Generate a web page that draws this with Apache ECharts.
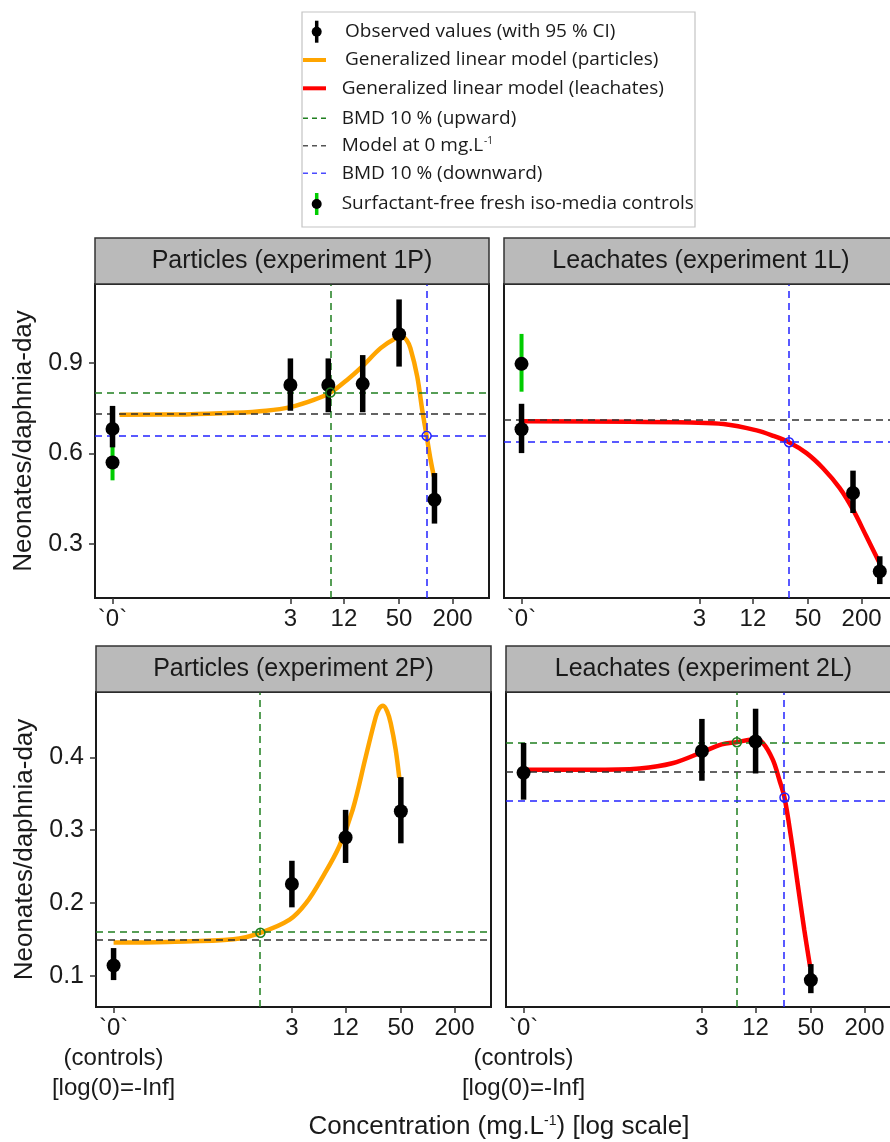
<!DOCTYPE html>
<html>
<head>
<meta charset="utf-8" />
<title>Neonates per daphnia-day</title>
<script src="https://cdn.jsdelivr.net/npm/echarts@6.0.0/dist/echarts.min.js"></script>
<style>
  html, body { margin: 0; padding: 0; background: #fff; }
  #main { width: 890px; height: 1142px; }
</style>
</head>
<body>
<div id="main"></div>
<script>
// the controls have no place on a log axis, they are drawn at the "`0`" tick
var zeroAt = 0.03;
var tickConc = [zeroAt, 3, 12, 50, 200];
var tickText = ['`0`', '3', '12', '50', '200'];
var yTicksTop = [0.3, 0.6, 0.9];
var yTicksBottom = [0.1, 0.2, 0.3, 0.4];

// experiment 1P (particles)
var conc1P = [0, 3, 8, 19.5, 50, 125];
var mean1P = [0.681, 0.826, 0.826, 0.830, 0.994, 0.447];
var low1P = [0.620, 0.741, 0.736, 0.736, 0.887, 0.368];
var high1P = [0.757, 0.914, 0.914, 0.925, 1.109, 0.535];
var ctrl1P = [0.570, 0.511, 0.630]; // surfactant-free control: mean, low, high
var fitConc1P = [0.036, 0.2, 0.7, 1.6, 3, 5.5, 8.45, 13, 19.2, 31, 45.7, 54, 60.7, 67, 80, 91, 102, 113, 123];
var fitVal1P = [0.728, 0.729, 0.734, 0.741, 0.753, 0.777, 0.801, 0.843, 0.887, 0.948, 0.981, 0.986, 0.975, 0.948, 0.854, 0.744, 0.658, 0.579, 0.524];
var ref1P = 0.730;
var up1P = [8.45, 0.801];
var down1P = [102, 0.658];

// experiment 1L (leachates)
var conc1L = [0, 160, 320];
var mean1L = [0.680, 0.469, 0.210];
var low1L = [0.601, 0.403, 0.168];
var high1L = [0.764, 0.543, 0.260];
var ctrl1L = [0.896, 0.804, 0.995];
var fitConc1L = [0.03, 0.5, 2.4, 5.6, 13.2, 20.3, 30.4, 48, 73.6, 113, 160, 226, 318];
var fitVal1L = [0.706, 0.705, 0.702, 0.697, 0.676, 0.658, 0.637, 0.601, 0.551, 0.486, 0.414, 0.326, 0.238];
var ref1L = 0.706;
var down1L = [30.5, 0.637];

// experiment 2P (particles)
var conc2P = [0, 3, 12, 50];
var mean2P = [0.114, 0.226, 0.290, 0.326];
var low2P = [0.094, 0.194, 0.255, 0.282];
var high2P = [0.138, 0.258, 0.328, 0.373];
var fitConc2P = [0.03, 0.12, 0.66, 1.33, 2.83, 4.34, 6.66, 10.2, 14.4, 20.2, 26.2, 28.5, 31.6, 35.2, 38.5, 43.7, 48];
var fitVal2P = [0.1455, 0.1465, 0.150, 0.159, 0.177, 0.200, 0.236, 0.278, 0.328, 0.401, 0.456, 0.467, 0.471, 0.463, 0.447, 0.411, 0.372];
var ref2P = 0.1455;
var up2P = [1.33, 0.159];

// experiment 2L (leachates)
var conc2L = [0, 3, 12, 50];
var mean2L = [0.379, 0.409, 0.422, 0.094];
var low2L = [0.342, 0.368, 0.378, 0.076];
var high2L = [0.420, 0.453, 0.467, 0.116];
var fitConc2L = [0.03, 0.17, 0.6, 1.4, 3.1, 5, 7.4, 11.7, 14.5, 18.7, 22.2, 25.3, 29.9, 35.5, 42.2, 49];
var fitVal2L = [0.383, 0.383, 0.385, 0.392, 0.408, 0.418, 0.421, 0.425, 0.420, 0.397, 0.369, 0.345, 0.291, 0.227, 0.163, 0.1125];
var ref2L = 0.383;
var up2L = [7.4, 0.421];
var down2L = [25.3, 0.345];

var chart = echarts.init(document.getElementById('main'));

var plotFont = "'Liberation Sans', Arial, sans-serif";
var legendFont = "'Open Sans', 'Noto Sans', sans-serif";
var ink = '#1a1a1a';
var upColor = '#1f7f1f', downColor = '#2323ff', refColor = '#303030';
var xMin = -1.72, xMax = 2.71;

function lx(c) { return Math.log10(c === 0 ? zeroAt : c); }

var rows = [
  { min: 0.122, max: 1.16, ticks: yTicksTop },
  { min: 0.057, max: 0.49, ticks: yTicksBottom }
];

var panels = [
  { title: 'Particles (experiment 1P)', box: [95, 284, 394, 314], row: 0, first: true, color: '#ffa500',
    conc: conc1P, mean: mean1P, low: low1P, high: high1P, ctrl: ctrl1P,
    fitConc: fitConc1P, fitVal: fitVal1P, ref: ref1P, up: up1P, down: down1P },
  { title: 'Leachates (experiment 1L)', box: [504, 284, 394, 314], row: 0, first: false, color: '#ff0000',
    conc: conc1L, mean: mean1L, low: low1L, high: high1L, ctrl: ctrl1L,
    fitConc: fitConc1L, fitVal: fitVal1L, ref: ref1L, up: null, down: down1L },
  { title: 'Particles (experiment 2P)', box: [96, 692, 395, 315], row: 1, first: true, color: '#ffa500',
    conc: conc2P, mean: mean2P, low: low2P, high: high2P, ctrl: null,
    fitConc: fitConc2P, fitVal: fitVal2P, ref: ref2P, up: up2P, down: null },
  { title: 'Leachates (experiment 2L)', box: [506, 692, 395, 315], row: 1, first: false, color: '#ff0000',
    conc: conc2L, mean: mean2L, low: low2L, high: high2L, ctrl: null,
    fitConc: fitConc2L, fitVal: fitVal2L, ref: ref2L, up: up2L, down: down2L }
];

function ciSeries(i, data, color, width) {
  return {
    type: 'custom', xAxisIndex: i, yAxisIndex: i, z: 6, silent: true,
    data: data,
    renderItem: function (params, api) {
      var a = api.coord([api.value(0), api.value(1)]);
      var b = api.coord([api.value(0), api.value(2)]);
      return { type: 'line', shape: { x1: a[0], y1: a[1], x2: b[0], y2: b[1] },
               style: { stroke: color, lineWidth: width } };
    }
  };
}

var grids = [], xAxes = [], yAxes = [], series = [], graphics = [];

panels.forEach(function (p, i) {
  var b = p.box, r = rows[p.row];
  grids.push({ left: b[0], top: b[1], width: b[2], height: b[3], show: true,
               outerBoundsMode: 'none', containLabel: false,
               borderColor: ink, borderWidth: 2, backgroundColor: '#fff' });
  var xt = tickConc.map(lx);
  xAxes.push({
    type: 'value', gridIndex: i, min: xMin, max: xMax,
    axisLine: { show: false, onZero: false }, splitLine: { show: false },
    axisTick: { show: true, length: 6, customValues: xt, lineStyle: { color: '#333', width: 1.5 } },
    axisLabel: {
      customValues: xt, margin: 6, fontFamily: plotFont, fontSize: 24, lineHeight: 30, color: ink,
      formatter: function (v) {
        var k = 0;
        xt.forEach(function (t, j) { if (Math.abs(t - v) < 1e-6) k = j; });
        if (k === 0 && p.row === 1) return tickText[0] + '\n(controls)\n[log(0)=-Inf]';
        return tickText[k];
      }
    }
  });
  yAxes.push({
    type: 'value', gridIndex: i, min: r.min, max: r.max,
    axisLine: { show: false, onZero: false }, splitLine: { show: false },
    axisTick: { show: p.first, length: 6, customValues: r.ticks, lineStyle: { color: '#333', width: 1.5 } },
    axisLabel: { show: p.first, customValues: r.ticks, margin: 12, fontFamily: plotFont, fontSize: 25, color: ink },
    name: p.first ? 'Neonates/daphnia-day' : '',
    nameLocation: 'middle', nameGap: 58,
    nameTextStyle: { fontFamily: plotFont, fontSize: 26, color: ink }
  });

  // reference lines of the model
  var marks = [{ yAxis: p.ref, lineStyle: { color: refColor } }];
  if (p.up) {
    marks.push({ yAxis: p.up[1], lineStyle: { color: upColor } });
    marks.push({ xAxis: lx(p.up[0]), lineStyle: { color: upColor } });
  }
  if (p.down) {
    marks.push({ yAxis: p.down[1], lineStyle: { color: downColor } });
    marks.push({ xAxis: lx(p.down[0]), lineStyle: { color: downColor } });
  }

  series.push({
    type: 'line', xAxisIndex: i, yAxisIndex: i, z: 3, smooth: 0.35, showSymbol: false, silent: true,
    lineStyle: { color: p.color, width: 4.5 },
    data: p.fitConc.map(function (c, k) { return [lx(c), p.fitVal[k]]; }),
    markLine: {
      silent: true, symbol: ['none', 'none'], label: { show: false },
      lineStyle: { type: [7, 5], width: 1.5 },
      data: marks
    }
  });

  if (p.ctrl) {
    series.push(ciSeries(i, [[lx(0), p.ctrl[1], p.ctrl[2]]], '#00cc00', 4));
  }
  series.push(ciSeries(i, p.conc.map(function (c, k) { return [lx(c), p.low[k], p.high[k]]; }), '#000', 5.5));

  var pts = p.conc.map(function (c, k) { return [lx(c), p.mean[k]]; });
  if (p.ctrl) pts.push([lx(0), p.ctrl[0]]);
  series.push({
    type: 'scatter', xAxisIndex: i, yAxisIndex: i, z: 7, silent: true,
    symbol: 'circle', symbolSize: 14, itemStyle: { color: '#000', opacity: 1 },
    data: pts
  });

  var bmd = [];
  if (p.up) bmd.push({ value: [lx(p.up[0]), p.up[1]], itemStyle: { borderColor: upColor } });
  if (p.down) bmd.push({ value: [lx(p.down[0]), p.down[1]], itemStyle: { borderColor: downColor } });
  series.push({
    type: 'scatter', xAxisIndex: i, yAxisIndex: i, z: 8, silent: true,
    symbol: 'circle', symbolSize: 9,
    itemStyle: { color: 'rgba(0,0,0,0)', borderWidth: 1.5, opacity: 1 },
    data: bmd
  });

  // grey strip above each panel
  graphics.push({
    type: 'rect', z: 10,
    shape: { x: b[0], y: b[1] - 46, width: b[2], height: 46 },
    style: { fill: '#bababa', stroke: '#333', lineWidth: 1.5 }
  });
  graphics.push({
    type: 'text', z: 11, x: b[0] + b[2] / 2, y: b[1] - 23,
    style: { text: p.title, font: '25px ' + plotFont, fill: ink, align: 'center', verticalAlign: 'middle' }
  });
});

// legend box
var legendItems = [
  { y: 31.7, tx: 345, kind: 'point', color: '#000', text: 'Observed values (with 95 % CI)' },
  { y: 60, tx: 345, kind: 'line', color: '#ffa500', text: 'Generalized linear model (particles)' },
  { y: 88.3, tx: 341.7, kind: 'line', color: '#ff0000', text: 'Generalized linear model (leachates)' },
  { y: 118.3, tx: 341.7, kind: 'dash', color: upColor, text: 'BMD 10 % (upward)' },
  { y: 145.7, tx: 341.7, kind: 'dash', color: '#555', text: '{n|Model at 0 mg.L}{s|-1}' },
  { y: 173.3, tx: 341.7, kind: 'dash', color: '#4b4bff', text: 'BMD 10 % (downward)' },
  { y: 204, tx: 341.7, kind: 'point', color: '#00cc00', text: 'Surfactant-free fresh iso-media controls' }
];
graphics.push({
  type: 'rect', shape: { x: 302, y: 12, width: 393, height: 215 },
  style: { fill: '#fff', stroke: '#c4c4c4', lineWidth: 1.2 }
});
legendItems.forEach(function (it) {
  if (it.kind === 'point') {
    graphics.push({ type: 'line', shape: { x1: 316.7, y1: it.y - 11, x2: 316.7, y2: it.y + 11 },
                    style: { stroke: it.color, lineWidth: 3.5 } });
    graphics.push({ type: 'circle', shape: { cx: 316.7, cy: it.y, r: 5 }, style: { fill: '#000' } });
  } else if (it.kind === 'line') {
    graphics.push({ type: 'line', shape: { x1: 303, y1: it.y, x2: 326, y2: it.y },
                    style: { stroke: it.color, lineWidth: 4 } });
  } else {
    graphics.push({ type: 'line', shape: { x1: 303, y1: it.y, x2: 330, y2: it.y },
                    style: { stroke: it.color, lineWidth: 1.5, lineDash: [5, 4] } });
  }
  graphics.push({
    type: 'text', x: it.tx, y: it.y,
    style: {
      text: it.text, font: '19px ' + legendFont, fill: ink, verticalAlign: 'middle',
      rich: {
        n: { fontFamily: legendFont, fontSize: 19, fill: ink },
        s: { fontFamily: legendFont, fontSize: 10, fill: ink, padding: [0, 0, 9, 1] }
      }
    }
  });
});

// x axis title shared by all panels
graphics.push({
  type: 'text', x: 499, y: 1127,
  style: {
    text: '{n|Concentration (mg.L}{s|-1}{n|) [log scale]}', align: 'center', verticalAlign: 'middle',
    rich: {
      n: { fontFamily: plotFont, fontSize: 26, fill: ink },
      s: { fontFamily: plotFont, fontSize: 14, fill: ink, padding: [0, 0, 12, 0] }
    }
  }
});

chart.setOption({
  animation: false,
  backgroundColor: '#fff',
  grid: grids,
  xAxis: xAxes,
  yAxis: yAxes,
  series: series,
  graphic: graphics
});
</script>
</body>
</html>
